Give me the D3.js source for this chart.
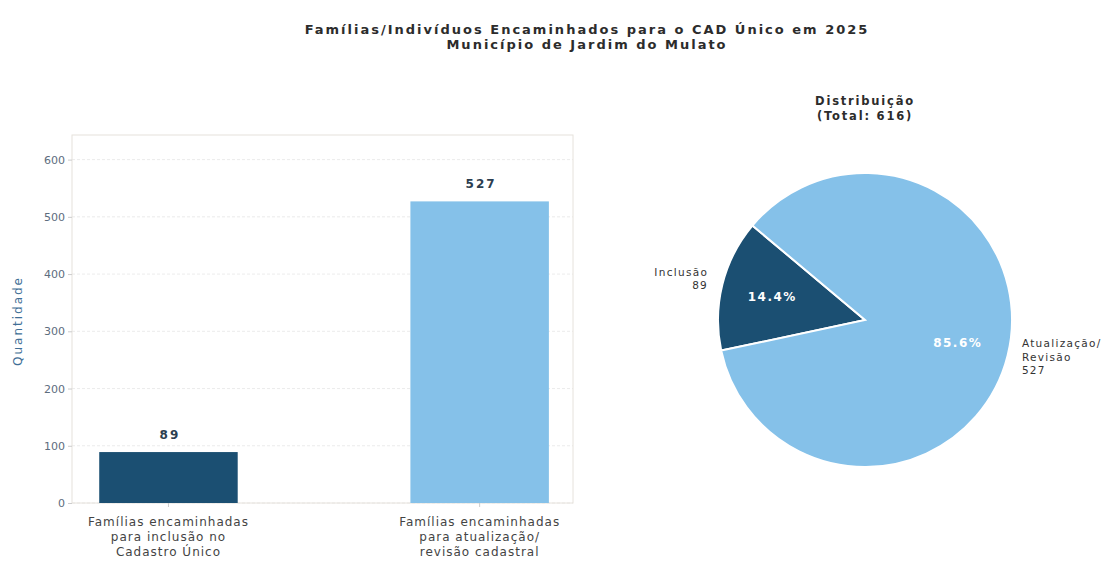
<!DOCTYPE html>
<html lang="pt">
<head>
    <meta charset="utf-8">
    <title>CAD Único 2025</title>
    <script src="https://d3js.org/d3.v7.min.js"></script>
    <style>
        body { margin: 0; background: #fff; }
        svg { font-family: "DejaVu Sans", sans-serif; }
    </style>
</head>
<body>
    <svg id="chart"></svg>

    <script>
        var width = 1108;
        var height = 561;

        // data
        var categories = [
            ["Famílias encaminhadas", "para inclusão no", "Cadastro Único"],
            ["Famílias encaminhadas", "para atualização/", "revisão cadastral"]
        ];
        var values = [89, 527];
        var pieLabels = [["Inclusão", "89"], ["Atualização/", "Revisão", "527"]];
        var yTicks = [0, 100, 200, 300, 400, 500, 600];
        var colors = ["#1b4f72", "#85c1e9"];

        var svg = d3.select("#chart")
            .attr("width", width)
            .attr("height", height);

        // title
        var title = svg.append("text")
            .attr("text-anchor", "middle")
            .attr("font-weight", "bold")
            .attr("font-size", 13)
            .attr("letter-spacing", 2)
            .attr("fill", "#2c2c2c");
        title.append("tspan").attr("x", 587).attr("y", 34).text("Famílias/Indivíduos Encaminhados para o CAD Único em 2025");
        title.append("tspan").attr("x", 587).attr("y", 49).text("Município de Jardim do Mulato");

        // ---- bar chart ----
        var bar = { left: 72, right: 573, top: 135, bottom: 503 };

        var xscale = d3.scaleLinear()
            .domain([-0.31, 1.3])
            .range([bar.left, bar.right]);
        var yscale = d3.scaleLinear()
            .domain([0, 643])
            .range([bar.bottom, bar.top]);
        var barWidth = xscale(0.445) - xscale(0);

        var g = svg.append("g");

        // grid
        g.selectAll("line.grid")
            .data(yTicks)
            .enter()
            .append("line")
            .attr("x1", bar.left)
            .attr("x2", bar.right)
            .attr("y1", function (d) { return yscale(d); })
            .attr("y2", function (d) { return yscale(d); })
            .attr("stroke", "#e6e6e6")
            .attr("stroke-dasharray", "3,2")
            .attr("stroke-width", 0.8);

        // frame
        g.append("rect")
            .attr("x", bar.left)
            .attr("y", bar.top)
            .attr("width", bar.right - bar.left)
            .attr("height", bar.bottom - bar.top)
            .attr("fill", "none")
            .attr("stroke", "#e6e2dc");

        g.selectAll("rect.bar")
            .data(values)
            .enter()
            .append("rect")
            .attr("class", "bar")
            .attr("x", function (d, i) { return xscale(i) - barWidth / 2; })
            .attr("y", function (d) { return yscale(d); })
            .attr("width", barWidth)
            .attr("height", function (d) { return yscale(0) - yscale(d); })
            .attr("fill", function (d, i) { return colors[i]; });

        g.selectAll("text.val")
            .data(values)
            .enter()
            .append("text")
            .attr("x", function (d, i) { return xscale(i) + 1.5; })
            .attr("y", function (d) { return yscale(d) - 13; })
            .attr("text-anchor", "middle")
            .attr("font-weight", "bold")
            .attr("font-size", 12)
            .attr("letter-spacing", 2)
            .attr("fill", "#2c3e50")
            .text(function (d) { return d; });

        // x ticks
        g.selectAll("line.xt")
            .data(values)
            .enter()
            .append("line")
            .attr("x1", function (d, i) { return xscale(i); })
            .attr("x2", function (d, i) { return xscale(i); })
            .attr("y1", bar.bottom)
            .attr("y2", bar.bottom + 4)
            .attr("stroke", "#cccccc");

        // y axis
        var yaxis = d3.axisLeft(yscale)
            .tickValues(yTicks)
            .tickSize(4)
            .tickPadding(3);
        var ya = svg.append("g")
            .attr("transform", "translate(" + bar.left + ",0)")
            .call(yaxis);
        ya.select(".domain").remove();
        ya.selectAll("line").attr("stroke", "#cccccc");
        ya.selectAll("text")
            .attr("font-family", "DejaVu Sans, sans-serif")
            .attr("font-size", 11)
            .attr("fill", "#5d6d7e");

        svg.append("text")
            .attr("transform", "translate(22," + ((bar.top + bar.bottom) / 2 + 2) + ") rotate(-90)")
            .attr("text-anchor", "middle")
            .attr("font-size", 12)
            .attr("letter-spacing", 2)
            .attr("fill", "#3f6f96")
            .text("Quantidade");

        // x labels
        var xl = svg.selectAll("text.xl")
            .data(categories)
            .enter()
            .append("text")
            .attr("text-anchor", "middle")
            .attr("font-size", 12)
            .attr("letter-spacing", 1)
            .attr("fill", "#444");
        xl.selectAll("tspan")
            .data(function (d, i) { return d.map(function (t) { return { t: t, i: i }; }); })
            .enter()
            .append("tspan")
            .attr("x", function (d) { return xscale(d.i); })
            .attr("y", function (d, j) { return 526 + j * 15; })
            .text(function (d) { return d.t; });

        // ---- pie ----
        var cx = 865, cy = 320, r = 147;
        var start = -50 * Math.PI / 180;

        svg.append("text")
            .attr("text-anchor", "middle")
            .attr("font-weight", "bold")
            .attr("font-size", 11.5)
            .attr("letter-spacing", 1.8)
            .attr("fill", "#2c2c2c")
            .selectAll("tspan")
            .data(["Distribuição", "(Total: " + d3.sum(values) + ")"])
            .enter()
            .append("tspan")
            .attr("x", cx)
            .attr("y", function (d, i) { return 105 + i * 15; })
            .text(function (d) { return d; });

        var pie = d3.pie()
            .sort(null)
            .startAngle(start)
            .endAngle(start - 2 * Math.PI);
        var arcs = pie(values);
        var arc = d3.arc().innerRadius(0).outerRadius(r);

        var pg = svg.append("g").attr("transform", "translate(" + cx + "," + cy + ")");

        pg.selectAll("path")
            .data(arcs)
            .enter()
            .append("path")
            .attr("d", arc)
            .attr("fill", function (d, i) { return colors[i]; })
            .attr("stroke", "#fff")
            .attr("stroke-width", 2);

        var total = d3.sum(values);
        function mid(d) { return (d.startAngle + d.endAngle) / 2; }

        pg.selectAll("text.pct")
            .data(arcs)
            .enter()
            .append("text")
            .attr("x", function (d) { return Math.sin(mid(d)) * r * 0.65; })
            .attr("y", function (d) { return -Math.cos(mid(d)) * r * 0.65; })
            .attr("dy", "0.35em")
            .attr("text-anchor", "middle")
            .attr("font-weight", "bold")
            .attr("font-size", 12)
            .attr("letter-spacing", 1.5)
            .attr("fill", "#fff")
            .text(function (d) { return (d.value / total * 100).toFixed(1) + "%"; });

        var outer = pg.selectAll("text.out")
            .data(arcs)
            .enter()
            .append("text")
            .attr("font-size", 10.5)
            .attr("letter-spacing", 1.3)
            .attr("fill", "#333")
            .attr("text-anchor", function (d) { return Math.sin(mid(d)) < 0 ? "end" : "start"; });
        outer.selectAll("tspan")
            .data(function (d, i) {
                var n = pieLabels[i].length;
                var x = Math.sin(mid(d)) * r * 1.1;
                var y = -Math.cos(mid(d)) * r * 1.1;
                return pieLabels[i].map(function (t, j) {
                    return { t: t, x: x, y: y + (j - (n - 1) / 2) * 13.5 - 2 };
                });
            })
            .enter()
            .append("tspan")
            .attr("x", function (d) { return d.x; })
            .attr("y", function (d) { return d.y; })
            .attr("dy", "0.35em")
            .text(function (d) { return d.t; });
    </script>
</body>
</html>
